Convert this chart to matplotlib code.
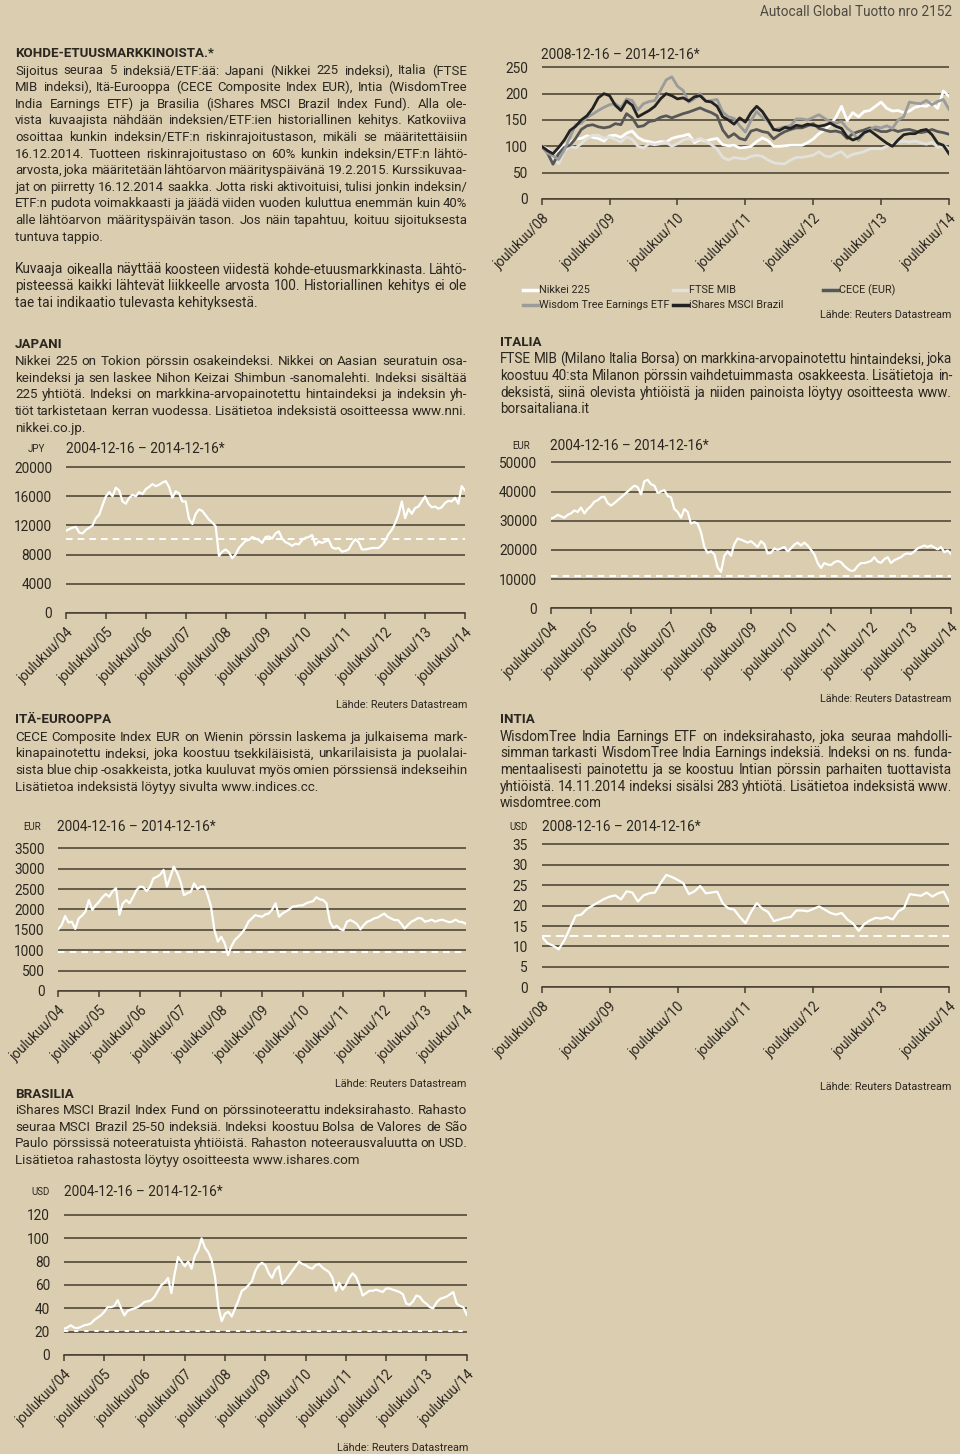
import matplotlib
matplotlib.use("Agg")
import matplotlib.pyplot as plt
from matplotlib.lines import Line2D
import pandas as pd

W, H = 960, 1454
BG = '#dbceb0'
INK = '#2b2620'
GRID = '#463d30'

plt.rcParams['font.family'] = ['Roboto', 'DejaVu Sans']

# ---- data (monthly readings) ----
years10 = list(range(2004, 2015))
years6 = list(range(2008, 2015))

nikkei = [
    11260,
    11500, 11700, 11800, 11000, 10900, 11400, 11700, 12000, 13000, 13500, 14800, 16000,
    16600, 16000, 17200, 16800, 15300, 15000, 15800, 16200, 16000, 16600, 16300, 17000,
    17300, 17700, 17400, 17600, 17900, 18100, 17300, 15800, 16700, 16400, 15300, 15300,
    12900, 12200, 13600, 14200, 14000, 13400, 12800, 12400, 11900, 7800, 8400, 8700,
    8300, 7500, 8000, 8900, 9400, 9900, 10000, 10400, 10200, 10000, 9600, 10400,
    10500, 10200, 10900, 11200, 10200, 9700, 9500, 9200, 9500, 9400, 10000, 10300,
    10400, 10700, 9300, 9800, 9600, 9800, 10000, 9000, 8800, 8900, 8400, 8500,
    8700, 9500, 10100, 9700, 8700, 8700, 8800, 8900, 8900, 8900, 9300, 9900,
    10800, 11400, 12300, 13500, 15300, 13000, 14300, 13600, 14400, 14600, 15300, 16000,
    15000, 14500, 14600, 14300, 14500, 15100, 15400, 15300, 15800, 15000, 17400, 16800,
]
ftse = [
    30700,
    31200, 32000, 31500, 31000, 32000, 32500, 33500, 33000, 34500, 32500, 34000, 35000,
    36500, 37000, 38000, 38200, 36000, 35200, 36000, 37000, 38000, 39000, 40000, 41000,
    42000, 41500, 39000, 43500, 44000, 42500, 42000, 39500, 40000, 40500, 38500, 38000,
    34000, 33000, 31000, 34000, 33000, 29000, 29500, 29000, 26000, 21000, 19000, 19500,
    18500, 14000, 12500, 18000, 19500, 18000, 22000, 23900, 23500, 23000, 22500, 23000,
    22000, 21000, 23000, 22000, 18800, 19000, 20500, 20000, 20500, 21000, 19500, 20500,
    21800, 22500, 21500, 22500, 21500, 20000, 18500, 15500, 13800, 15500, 15000, 14800,
    15800, 16200, 15800, 14500, 13500, 12800, 13000, 14500, 15500, 15500, 15800, 16200,
    17500, 16000, 15600, 16800, 17500, 15500, 16500, 17000, 17500, 18500, 18800, 18600,
    19500, 20500, 21000, 21500, 21000, 21500, 20800, 20200, 21000, 19200, 19800, 18600,
]
cece = [
    1510,
    1620, 1840, 1680, 1700, 1520, 1780, 1850, 1950, 2230, 1990, 2100, 2190,
    2300, 2380, 2310, 2450, 2520, 1870, 2150, 2230, 2150, 2300, 2470, 2560,
    2550, 2450, 2550, 2760, 2800, 2850, 2970, 2560, 2800, 3050, 2900, 2680,
    2350, 2400, 2430, 2640, 2500, 2560, 2560, 2350, 2060, 1490, 1210, 1330,
    1170, 880, 1100, 1250, 1330, 1420, 1530, 1700, 1780, 1860, 1840, 1820,
    1880, 1900, 2000, 2150, 1820, 1900, 1950, 2000, 2070, 2080, 2100, 2100,
    2150, 2180, 2200, 2300, 2250, 2230, 2150, 1700, 1550, 1600, 1520, 1490,
    1700, 1740, 1700, 1640, 1510, 1620, 1700, 1730, 1780, 1800, 1850, 1900,
    1820, 1780, 1740, 1740, 1650, 1530, 1620, 1700, 1740, 1790, 1780, 1700,
    1720, 1750, 1700, 1730, 1750, 1720, 1690, 1700, 1750, 1700, 1690, 1650,
]
india = [
    12.4,
    10.8, 10.2, 9.3, 11.5, 14.5, 17.5, 17.8, 19.2, 20.0, 20.8, 21.6, 22.2,
    22.5, 21.5, 23.5, 23.2, 21.0, 22.5, 23.0, 23.2, 25.5, 27.5, 27.0, 26.3,
    25.5, 22.8, 23.5, 24.8, 23.0, 23.2, 23.4, 20.5, 19.3, 19.0, 17.2, 15.7,
    18.5, 20.6, 19.2, 18.4, 16.2, 16.6, 17.0, 17.2, 18.8, 18.8, 18.6, 19.2,
    19.8, 19.0, 18.2, 17.8, 18.2, 16.6, 15.6, 13.8, 15.5, 16.4, 17.0, 16.8,
    17.2, 16.6, 18.6, 19.4, 22.8, 22.6, 22.4, 23.2, 22.2, 23.0, 23.4, 20.8,
]
brazil = [
    22.5,
    23.5, 25.5, 23.5, 23, 24, 25.5, 26, 27, 30, 32, 34, 37,
    41, 41, 42, 47, 40, 34, 38, 39, 40, 41, 43, 45.5,
    46, 47, 50, 55, 60, 62, 66, 53, 70, 84, 80, 76,
    80, 74, 85, 90, 100, 92, 88, 81, 67, 41, 29, 35.5,
    37, 33, 40, 47, 55, 57, 60, 63, 72, 77, 79, 77,
    70, 66, 73, 76, 61, 64, 68, 72, 76, 80, 78, 77,
    75, 74, 77, 78, 75, 73, 71, 66, 55, 62, 56, 60,
    66, 70, 67, 60, 51, 53, 55, 55, 56, 55, 54, 57,
    57, 56, 55, 54, 52, 44, 43, 46, 51, 50, 46, 44,
    41, 40, 45, 48, 49, 50, 52, 54, 44, 42, 41, 34.5,
]

# summary chart, start = 100
combo_names = ['Nikkei 225', 'FTSE MIB', 'CECE (EUR)',
               'Wisdom Tree Earnings ETF', 'iShares MSCI Brazil']
combo_nikkei = [
    100,
    95, 86, 92, 102, 108, 114, 115, 120, 117, 115, 110, 120,
    121, 117, 125, 129, 117, 111, 109, 106, 109, 108, 115, 118,
    120, 123, 107, 113, 110, 113, 115, 103, 101, 102, 97, 98,
    100, 109, 116, 111, 100, 100, 101, 102, 102, 102, 107, 114,
    124, 131, 141, 155, 176, 149, 164, 156, 166, 168, 176, 184,
    172, 167, 168, 164, 167, 174, 177, 176, 182, 172, 205, 195,
]
combo_ftse = [
    100,
    95, 77, 67, 90, 100, 97, 105, 115, 121, 121, 115, 118,
    113, 108, 118, 113, 100, 97, 105, 103, 105, 108, 100, 105,
    112, 115, 110, 115, 110, 103, 95, 79, 74, 79, 77, 76,
    81, 83, 81, 74, 69, 67, 67, 74, 79, 79, 81, 83,
    90, 82, 80, 86, 90, 79, 85, 87, 90, 95, 96, 95,
    100, 105, 108, 110, 108, 110, 107, 104, 108, 98, 102, 95,
]
combo_cece = [
    100,
    88, 66, 86, 98, 102, 115, 132, 139, 141, 137, 135, 137,
    143, 141, 162, 154, 137, 139, 147, 149, 155, 158, 154, 158,
    162, 165, 169, 173, 168, 164, 158, 131, 117, 124, 115, 112,
    129, 132, 128, 126, 114, 122, 128, 132, 135, 135, 139, 143,
    134, 131, 128, 129, 126, 115, 124, 128, 131, 135, 132, 128,
    128, 132, 128, 131, 132, 129, 126, 128, 132, 128, 126, 123,
]
combo_india = [
    100,
    87, 82, 75, 93, 117, 141, 144, 155, 161, 168, 174, 179,
    181, 173, 190, 187, 169, 181, 185, 187, 206, 226, 232, 214,
    206, 184, 190, 200, 185, 187, 189, 165, 156, 153, 139, 127,
    149, 166, 155, 148, 131, 134, 137, 139, 152, 152, 150, 155,
    160, 153, 147, 144, 147, 134, 126, 111, 125, 132, 137, 135,
    139, 134, 150, 156, 184, 182, 181, 187, 179, 185, 189, 170,
]
combo_brazil = [
    100,
    92, 86, 98, 112, 130, 138, 150, 158, 172, 192, 200, 196,
    178, 168, 186, 178, 156, 162, 168, 176, 190, 200, 196, 190,
    192, 186, 194, 196, 186, 184, 176, 156, 150, 142, 154, 146,
    164, 176, 166, 150, 132, 130, 136, 134, 140, 138, 142, 140,
    138, 140, 144, 138, 134, 118, 112, 116, 126, 130, 122, 114,
    106, 100, 112, 122, 124, 124, 130, 132, 122, 106, 102, 86,
]
combo_colors = ['#ffffff', '#e3e1dc', '#575757', '#9b9b9b', '#222222']

# risk levels (dashed lines)
risk_nikkei, risk_ftse, risk_cece, risk_india, risk_brazil = 10100, 11200, 960, 12.5, 20.5

source = 'Lähde: Reuters Datastream'

intro = [
    'Sijoitus seuraa 5 indeksiä/ETF:ää: Japani (Nikkei 225 indeksi), Italia (FTSE',
    'MIB indeksi), Itä-Eurooppa (CECE Composite Index EUR), Intia (WisdomTree',
    'India Earnings ETF) ja Brasilia (iShares MSCI Brazil Index Fund). Alla ole-',
    'vista kuvaajista nähdään indeksien/ETF:ien historiallinen kehitys. Katkoviiva',
    'osoittaa kunkin indeksin/ETF:n riskinrajoitustason, mikäli se määritettäisiin',
    '16.12.2014. Tuotteen riskinrajoitustaso on 60% kunkin indeksin/ETF:n lähtö-',
    'arvosta, joka määritetään lähtöarvon määrityspäivänä 19.2.2015. Kurssikuvaa-',
    'jat on piirretty 16.12.2014 saakka. Jotta riski aktivoituisi, tulisi jonkin indeksin/',
    'ETF:n pudota voimakkaasti ja jäädä viiden vuoden kuluttua enemmän kuin 40%',
    'alle lähtöarvon määrityspäivän tason. Jos näin tapahtuu, koituu sijoituksesta',
    'tuntuva tappio.',
]
intro2 = [
    'Kuvaaja oikealla näyttää koosteen viidestä kohde-etuusmarkkinasta. Lähtö-',
    'pisteessä kaikki lähtevät liikkeelle arvosta 100. Historiallinen kehitys ei ole',
    'tae tai indikaatio tulevasta kehityksestä.',
]
txt_japan = [
    'Nikkei 225 on Tokion pörssin osakeindeksi. Nikkei on Aasian seuratuin osa-',
    'keindeksi ja sen laskee Nihon Keizai Shimbun -sanomalehti. Indeksi sisältää',
    '225 yhtiötä. Indeksi on markkina-arvopainotettu hintaindeksi ja indeksin yh-',
    'tiöt tarkistetaan kerran vuodessa. Lisätietoa indeksistä osoitteessa www.nni.',
    'nikkei.co.jp.',
]
txt_italy = [
    'FTSE MIB (Milano Italia Borsa) on markkina-arvopainotettu hintaindeksi, joka',
    'koostuu 40:sta Milanon pörssin vaihdetuimmasta osakkeesta. Lisätietoja in-',
    'deksistä, siinä olevista yhtiöistä ja niiden painoista löytyy osoitteesta www.',
    'borsaitaliana.it',
]
txt_east = [
    'CECE Composite Index EUR on Wienin pörssin laskema ja julkaisema mark-',
    'kinapainotettu indeksi, joka koostuu tsekkiläisistä, unkarilaisista ja puolalai-',
    'sista blue chip -osakkeista, jotka kuuluvat myös omien pörssiensä indekseihin',
    'Lisätietoa indeksistä löytyy sivulta www.indices.cc.',
]
txt_india = [
    'WisdomTree India Earnings ETF on indeksirahasto, joka seuraa mahdolli-',
    'simman tarkasti WisdomTree India Earnings indeksiä. Indeksi on ns. funda-',
    'mentaalisesti painotettu ja se koostuu Intian pörssin parhaiten tuottavista',
    'yhtiöistä. 14.11.2014 indeksi sisälsi 283 yhtiötä. Lisätietoa indeksistä www.',
    'wisdomtree.com',
]
txt_brazil = [
    'iShares MSCI Brazil Index Fund on pörssinoteerattu indeksirahasto. Rahasto',
    'seuraa MSCI Brazil 25-50 indeksiä. Indeksi koostuu Bolsa de Valores de São',
    'Paulo pörssissä noteeratuista yhtiöistä. Rahaston noteerausvaluutta on USD.',
    'Lisätietoa rahastosta löytyy osoitteesta www.ishares.com',
]

fig = plt.figure(figsize=(W / 100, H / 100), dpi=100, facecolor=BG)
renderer = fig.canvas.get_renderer()
BODY = 9.8
MIN_GAP = 2.4


def fx(x):
    return x / W


def fy(y):
    return 1 - y / H


def word_widths(words, size):
    out = []
    for w in words:
        t = fig.text(0, 0, w, fontsize=size)
        out.append(t.get_window_extent(renderer).width)
        t.remove()
    return out


def para(lines, x0, x1, y0, step=16.62):
    # one size for the whole block, small enough that every justified line fits
    size = BODY
    for line in lines[:-1]:
        words = line.split(' ')
        room = x1 - x0 - MIN_GAP * (len(words) - 1)
        size = min(size, BODY * room / sum(word_widths(words, BODY)))
    kw = dict(ha='left', va='center', color=INK, fontsize=size)
    for k, line in enumerate(lines):
        y = y0 + k * step
        if k == len(lines) - 1:
            fig.text(fx(x0), fy(y), line, **kw)
            continue
        words = line.split(' ')
        ts = [fig.text(0, fy(y), w, **kw) for w in words]
        ws = [t.get_window_extent(renderer).width for t in ts]
        gap = (x1 - x0 - sum(ws)) / (len(words) - 1)
        x = x0
        for t, w in zip(ts, ws):
            t.set_x(fx(x))
            x += w + gap


def heading(s, x, y):
    fig.text(fx(x), fy(y), s, ha='left', va='center', fontsize=9.6,
             fontweight='bold', color=INK)


def chart(left, right, y_top, y_zero, ymax, step, start, end, years):
    m = 0.03
    top_px = y_top - m * (y_zero - y_top)
    ax = fig.add_axes([fx(left), fy(y_zero), (right - left) / W, (y_zero - top_px) / H])
    ax.set_ylim(0, ymax * (1 + m))
    ax.set_xlim(pd.Timestamp(start), pd.Timestamp(end))
    ax.patch.set_alpha(0)
    for s in ['top', 'right', 'left']:
        ax.spines[s].set_visible(False)
    ax.spines['bottom'].set_color(GRID)
    ax.spines['bottom'].set_linewidth(1.1)
    yt = list(range(0, ymax + 1, step))
    ax.set_yticks(yt)
    ax.set_yticklabels([str(v) for v in yt])
    ax.tick_params(axis='y', length=0, pad=10, labelsize=9.8, labelcolor=INK)
    ax.yaxis.grid(True, color=GRID, lw=1.1)
    ax.set_axisbelow(True)
    ax.set_xticks([pd.Timestamp(f'{y}-12-16') for y in years])
    ax.set_xticklabels([f'joulukuu/{y % 100:02d}' for y in years], rotation=45,
                       ha='right', rotation_mode='anchor')
    ax.tick_params(axis='x', direction='out', length=4, width=1.1, color=GRID,
                   pad=5, labelsize=9.8, labelcolor=INK)
    return ax


def single(ax, values, start, end, risk, dashes):
    dates = pd.date_range(start, end, periods=len(values))
    ax.axhline(risk, color='white', lw=1.4, dashes=dashes, zorder=2)
    ax.plot(dates, values, color='white', lw=1.6, zorder=3, solid_joinstyle='round')


def label(x, y, s, size, ha='left', color=INK):
    fig.text(fx(x), fy(y), s, ha=ha, va='center', fontsize=size, color=color)


# ---- header and text ----
label(952, 12, 'Autocall Global Tuotto nro 2152', 9.8, ha='right', color='#4d4842')

heading('KOHDE-ETUUSMARKKINOISTA.*', 15, 53.5)
para(intro, 15, 467, 71)
para(intro2, 15, 467, 269.5)

heading('JAPANI', 15, 345)
para(txt_japan, 15, 467, 361.7)
heading('ITALIA', 500, 342.3)
para(txt_italy, 500, 952, 359.3)
heading('ITÄ-EUROOPPA', 15, 720)
para(txt_east, 15, 467, 737.3)
heading('INTIA', 500, 720)
para(txt_india, 500, 952, 736.7)
heading('BRASILIA', 15, 1094)
para(txt_brazil, 15, 467, 1110.7)

# ---- summary chart ----
s6, e6 = '2008-12-16', '2014-12-16'
s10, e10 = '2004-12-16', '2014-12-16'
ax = chart(541.7, 949, 67.3, 199, 250, 50, s6, e6, years6)
d6 = pd.date_range(s6, e6, periods=len(combo_nikkei))
combo = [combo_nikkei, combo_ftse, combo_cece, combo_india, combo_brazil]
for i in [1, 2, 3, 0, 4]:
    ax.plot(d6, combo[i], color=combo_colors[i], lw=2.0, zorder=3 + i * 0.1)
label(541, 55, '2008-12-16 – 2014-12-16*', 9.8)

legend_pos = [(523, 290), (673, 290), (823, 290), (523, 305), (673, 305)]
for (lx, ly), name, col in zip(legend_pos, combo_names, combo_colors):
    fig.add_artist(Line2D([fx(lx), fx(lx + 15)], [fy(ly), fy(ly)], color=col, lw=2.5))
    label(lx + 16, ly, name, 7.8)
label(951, 315, source, 7.8, ha='right')

# ---- Japan ----
ax = chart(66, 465, 467.3, 612.7, 20000, 4000, s10, e10, years10)
single(ax, nikkei, s10, e10, risk_nikkei, (3.4, 2.6))
label(36, 449, 'JPY', 7, ha='center')
label(66, 449, '2004-12-16 – 2014-12-16*', 9.8)
label(467, 705, source, 7.8, ha='right')

# ---- Italy ----
ax = chart(551, 951, 462.3, 608.3, 50000, 10000, s10, e10, years10)
single(ax, ftse, s10, e10, risk_ftse, (3.4, 2.6))
label(521, 445.7, 'EUR', 7, ha='center')
label(550, 445.7, '2004-12-16 – 2014-12-16*', 9.8)
label(951.7, 699, source, 7.8, ha='right')

# ---- Eastern Europe ----
ax = chart(58.3, 465.7, 848.3, 991, 3500, 500, s10, e10, years10)
single(ax, cece, s10, e10, risk_cece, (3.4, 2.6))
label(31.7, 826.7, 'EUR', 7, ha='center')
label(57.3, 826.7, '2004-12-16 – 2014-12-16*', 9.8)
label(466.7, 1084, source, 7.8, ha='right')

# ---- India ----
ax = chart(541.7, 949.3, 844.3, 987.3, 35, 5, s6, e6, years6)
single(ax, india, s6, e6, risk_india, (4.5, 2.6))
label(519, 826.7, 'USD', 7, ha='center')
label(541.7, 826.7, '2008-12-16 – 2014-12-16*', 9.8)
label(951, 1086.7, source, 7.8, ha='right')

# ---- Brazil ----
ax = chart(64, 466.7, 1215, 1355, 120, 20, s10, e10, years10)
single(ax, brazil, s10, e10, risk_brazil, (2.2, 3.0))
label(41, 1192.3, 'USD', 7, ha='center')
label(64, 1192.3, '2004-12-16 – 2014-12-16*', 9.8)
label(468, 1448.3, source, 7.8, ha='right')

fig.savefig('out.png', dpi=100, facecolor=BG)
